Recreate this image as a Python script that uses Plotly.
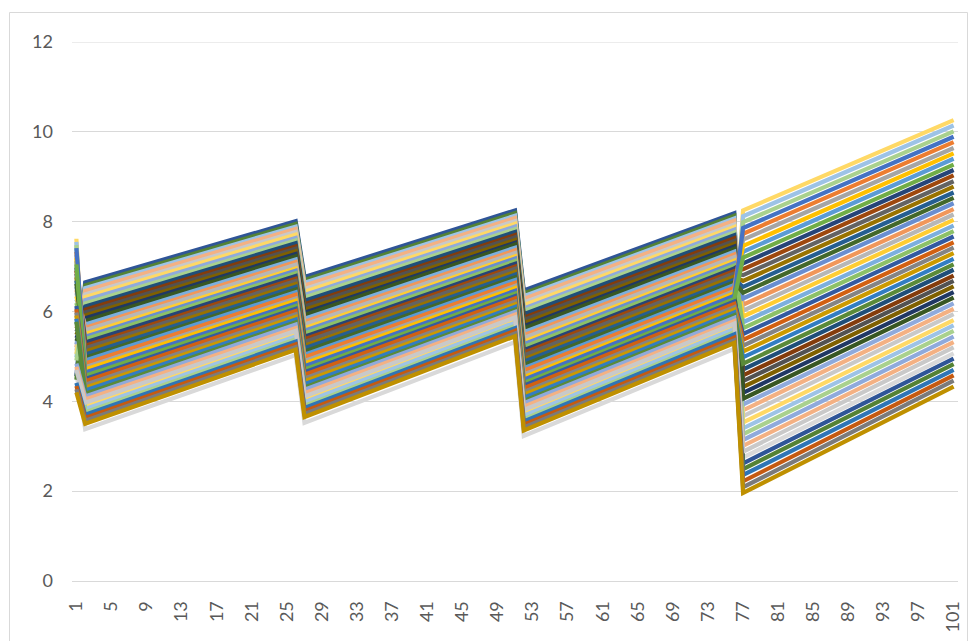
import plotly.graph_objects as go

# Break points of the sawtooth profile (x positions where each series changes direction)
X_POINTS = [1, 2, 26, 27, 51, 52, 76, 77, 101]

# Category tick labels shown on the x axis
X_TICK_LABELS = [1, 5, 9, 13, 17, 21, 25, 29, 33, 37, 41, 45, 49, 53, 57,
                 61, 65, 69, 73, 77, 81, 85, 89, 93, 97, 101]
Y_TICKS = [0, 2, 4, 6, 8, 10, 12]

# Line colours, one per series
COLORS = [
    "#2F5597", "#548235", "#9DC3E6", "#F4B183", "#C9C9C9", "#FFD966", "#8FAADC", "#A9D18E",
    "#1F4E79", "#843C0C", "#525252", "#7F6000", "#203864", "#385723",
    "#7CAFDD", "#F1975A", "#B7B7B7", "#FFCD33", "#698ED0", "#8CC168",
    "#264478", "#9E480E", "#636363", "#997300", "#255E91", "#43682B",
    "#5B9BD5", "#ED7D31", "#A5A5A5", "#FFC000", "#4472C4", "#70AD47",
    "#335AA1", "#D26012", "#848484", "#CC9A00", "#327DC2", "#5A8A39",
    "#8FAADC", "#F4B183", "#C9C9C9", "#FFD966", "#9DC3E6", "#A9D18E",
    "#2E75B6", "#C55A11", "#7B7B7B", "#BF9000", "#D9D9D9",
]

# Series values at each break point (index i = series i)
AT_1 = [4.56, 4.48, 4.98, 5.20, 5.13, 5.05, 5.27, 4.91, 5.70, 5.62, 5.55, 5.48, 5.41, 5.34,
        6.27, 6.48, 6.41, 6.34, 6.55, 6.19, 6.98, 6.91, 6.84, 6.76, 6.69, 6.62, 7.12, 7.33,
        7.26, 7.19, 7.41, 7.05, 6.12, 6.05, 5.98, 5.91, 5.84, 5.77, 4.84, 4.77, 4.70, 7.62,
        7.55, 7.48, 4.41, 4.34, 4.27, 4.20, 4.63]
AT_2 = [6.65, 6.58, 6.52, 6.46, 6.38, 6.32, 6.25, 6.18, 6.11, 6.04, 5.98, 5.91, 5.85, 5.79,
        5.71, 5.64, 5.58, 5.50, 5.44, 5.38, 5.31, 5.24, 5.18, 5.11, 5.04, 4.97, 4.91, 4.84,
        4.76, 4.71, 4.64, 4.57, 4.50, 4.45, 4.37, 4.30, 4.24, 4.17, 4.11, 4.04, 3.97, 3.90,
        3.83, 3.76, 3.70, 3.63, 3.57, 3.50, 3.38]
AT_26 = [8.01, 7.95, 7.89, 7.84, 7.77, 7.71, 7.64, 7.58, 7.52, 7.45, 7.40, 7.34, 7.28, 7.23,
         7.16, 7.10, 7.04, 6.96, 6.91, 6.85, 6.79, 6.73, 6.68, 6.61, 6.55, 6.49, 6.43, 6.37,
         6.29, 6.24, 6.18, 6.12, 6.06, 6.01, 5.94, 5.88, 5.82, 5.76, 5.71, 5.63, 5.57, 5.51,
         5.45, 5.38, 5.33, 5.27, 5.21, 5.15, 5.03]
AT_27 = [6.77, 6.70, 6.64, 6.58, 6.50, 6.44, 6.37, 6.31, 6.24, 6.16, 6.11, 6.04, 5.97, 5.92,
         5.84, 5.77, 5.71, 5.63, 5.57, 5.51, 5.44, 5.38, 5.32, 5.24, 5.18, 5.11, 5.04, 4.98,
         4.90, 4.84, 4.78, 4.71, 4.65, 4.59, 4.51, 4.45, 4.38, 4.31, 4.26, 4.18, 4.11, 4.05,
         3.98, 3.90, 3.85, 3.78, 3.72, 3.65, 3.52]
AT_51 = [8.25, 8.19, 8.13, 8.08, 8.01, 7.95, 7.89, 7.83, 7.77, 7.70, 7.65, 7.59, 7.53, 7.49,
         7.42, 7.36, 7.30, 7.23, 7.18, 7.12, 7.06, 7.00, 6.95, 6.88, 6.82, 6.76, 6.70, 6.64,
         6.57, 6.52, 6.46, 6.40, 6.34, 6.29, 6.22, 6.16, 6.10, 6.04, 5.99, 5.93, 5.87, 5.81,
         5.75, 5.68, 5.63, 5.57, 5.51, 5.45, 5.32]
AT_52 = [6.47, 6.40, 6.34, 6.28, 6.20, 6.14, 6.07, 6.01, 5.94, 5.86, 5.81, 5.74, 5.67, 5.62,
         5.54, 5.47, 5.41, 5.33, 5.27, 5.21, 5.14, 5.08, 5.02, 4.94, 4.88, 4.81, 4.74, 4.68,
         4.60, 4.54, 4.48, 4.41, 4.35, 4.29, 4.21, 4.15, 4.08, 4.01, 3.96, 3.88, 3.81, 3.75,
         3.68, 3.60, 3.55, 3.48, 3.42, 3.35, 3.23]
AT_76 = [8.19, 8.13, 8.07, 8.02, 7.94, 7.88, 7.82, 7.76, 7.70, 7.63, 7.57, 7.51, 7.45, 7.40,
         7.33, 7.27, 7.21, 7.13, 7.08, 7.02, 6.96, 6.90, 6.85, 6.78, 6.71, 6.65, 6.59, 6.53,
         6.46, 6.41, 6.35, 6.28, 6.22, 6.17, 6.10, 6.04, 5.98, 5.92, 5.86, 5.79, 5.73, 5.67,
         5.61, 5.54, 5.49, 5.42, 5.36, 5.30, 5.17]
AT_77 = [2.62, 2.49, 3.40, 3.80, 3.67, 3.53, 3.93, 3.27, 4.71, 4.58, 4.45, 4.32, 4.19, 4.06,
         5.76, 6.15, 6.02, 5.89, 6.29, 5.63, 7.07, 6.94, 6.81, 6.68, 6.55, 6.42, 7.33, 7.73,
         7.60, 7.46, 7.86, 7.20, 5.50, 5.37, 5.24, 5.11, 4.98, 4.84, 3.14, 3.01, 2.88, 8.25,
         8.12, 7.99, 2.36, 2.22, 2.09, 1.96, 2.75]
AT_101 = [4.95, 4.83, 5.69, 6.06, 5.94, 5.81, 6.18, 5.57, 6.93, 6.80, 6.68, 6.56, 6.43, 6.31,
          7.91, 8.28, 8.16, 8.04, 8.41, 7.79, 9.15, 9.03, 8.90, 8.78, 8.65, 8.53, 9.40, 9.77,
          9.64, 9.52, 9.89, 9.27, 7.67, 7.54, 7.42, 7.30, 7.17, 7.05, 5.44, 5.32, 5.20, 10.26,
          10.14, 10.01, 4.70, 4.58, 4.46, 4.33, 5.07]

COLUMNS = [AT_1, AT_2, AT_26, AT_27, AT_51, AT_52, AT_76, AT_77, AT_101]

FONT = "Lato, 'Open Sans', sans-serif"
GRID = "#D9D9D9"
TEXT = "#595959"

fig = go.Figure()

# the pale grey series sits underneath everything, then the pale top-of-ramp
# series, then the rest in their natural order
n = len(COLORS)
draw_order = [n - 1, 41, 42, 43] + [i for i in range(n - 1) if i not in (41, 42, 43)]
for i in draw_order:
    fig.add_trace(go.Scatter(
        x=X_POINTS,
        y=[col[i] for col in COLUMNS],
        mode="lines",
        line=dict(color=COLORS[i], width=4.2),
        showlegend=False,
        hoverinfo="skip",
        name=str(i + 1),
    ))

W, H = 971, 641
ML, MR, MT, MB = 72, 13, 42, 60
pw, ph = W - ML - MR, H - MT - MB

def px_x(px):
    return (px - ML) / pw

def px_y(py):
    return (H - MB - py) / ph

fig.update_layout(
    width=W, height=H,
    margin=dict(l=ML, r=MR, t=MT, b=MB, autoexpand=False),
    paper_bgcolor="white",
    plot_bgcolor="white",
    font=dict(family=FONT, color=TEXT, size=18),
    xaxis=dict(
        range=[0.5, 101.5],
        automargin=False,
        tickmode="array",
        tickvals=X_TICK_LABELS,
        ticktext=[str(v) for v in X_TICK_LABELS],
        tickangle=-90,
        tickfont=dict(size=18, color=TEXT, family=FONT),
        showgrid=False,
        zeroline=False,
        showline=True,
        linecolor=GRID,
        linewidth=1,
        ticks="",
        ticklabelstandoff=12,
    ),
    yaxis=dict(
        range=[0, 12],
        automargin=False,
        tickmode="array",
        tickvals=Y_TICKS,
        ticktext=[str(v) for v in Y_TICKS],
        tickfont=dict(size=18, color=TEXT, family=FONT),
        showgrid=True,
        gridcolor=GRID,
        gridwidth=1,
        zeroline=False,
        showline=False,
        ticks="",
        ticklabelstandoff=18,
    ),
    shapes=[
        # outer chart frame
        dict(type="rect", xref="paper", yref="paper",
             x0=px_x(9.5), x1=px_x(967.5), y0=px_y(660), y1=px_y(12.5),
             line=dict(color=GRID, width=1), fillcolor="rgba(0,0,0,0)", layer="below"),
        # top gridline at 12
        dict(type="line", xref="paper", yref="y", x0=0, x1=1, y0=12, y1=12,
             line=dict(color=GRID, width=1), layer="below"),
    ],
)

fig.write_html("out.html")
